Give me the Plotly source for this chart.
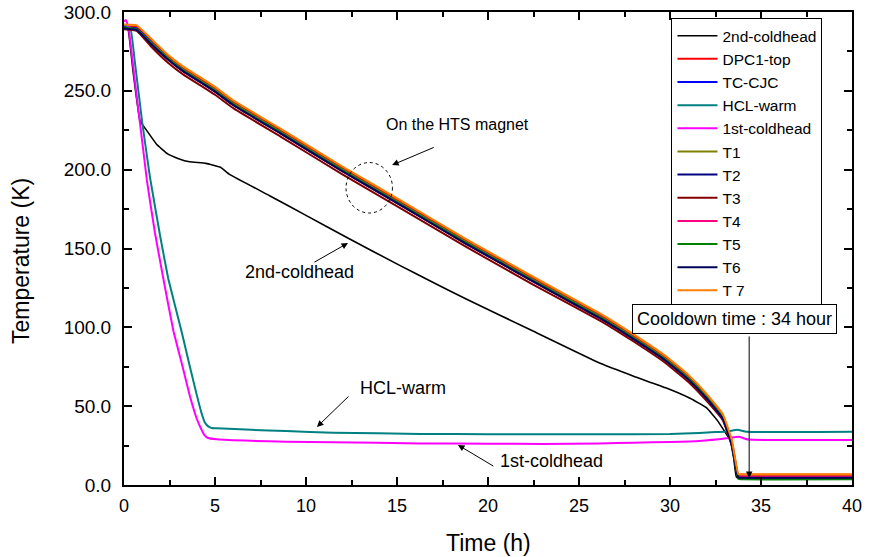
import plotly.graph_objects as go

# ---------------- data ----------------
t_2nd = [0, 0.2, 0.5, 0.88, 1.3, 1.8, 2.4, 3.0, 3.6, 4.5, 5.3, 5.8, 8, 10, 12.4, 15.2, 16.8, 18.8,
         22.5, 26.2, 28, 29.8, 31.1, 32, 32.6, 33.0, 33.3, 33.5, 33.65, 34, 40]
v_2nd = [290, 290, 262, 231, 224, 216, 210, 207, 205, 204, 201.5, 197, 183.5, 171, 156, 139, 129.5, 118,
         97.5, 77, 69, 61.5, 55, 49, 41, 34, 28.5, 17, 5, 4.2, 4.2]

t_mag = [0, 0.7, 1.5, 2.4, 3.3, 4.2, 5, 6, 8.6, 12, 15.2, 18.8, 22.5, 26.2, 28, 29.8, 31, 32,
         32.9, 33.4, 33.75, 34, 40]
v_dpc1 = [291, 290.5, 282, 272, 264, 257.5, 251.5, 243, 225, 201, 179.5, 155, 131, 107.5, 94.5, 80.5,
          69, 57, 44, 27.5, 6.5, 6.5, 6.5]
v_tccjc = [290.5, 289.5, 281, 271, 263, 256.5, 250.5, 242, 224, 200, 178.5, 154, 130, 106.5, 93.5, 79.5,
           68, 56, 43, 26.5, 5, 4.8, 4.8]
v_t1 = [290, 289, 280.5, 271, 263, 256.5, 250.5, 242, 224, 200, 178.5, 154, 130, 106.5, 93.5, 79.5,
        68, 56, 43, 26.5, 5, 4.5, 4.5]
v_t2 = [289.5, 288.5, 279.5, 270, 262, 255.5, 249.5, 241, 223, 199, 177.5, 153, 129, 105.5, 92.5, 78.5,
        67, 55, 42, 25.5, 4.8, 4.6, 4.6]
v_t3 = [289, 288, 278, 268, 260, 253.5, 247.5, 239, 221, 197, 175.5, 151, 127, 104, 91, 77,
        65.5, 53.5, 41, 25, 5.5, 5.3, 5.3]
v_t4 = [289.5, 288.5, 279.5, 270, 262, 255.5, 249.5, 241, 223, 199, 177.5, 153, 129, 105.5, 92.5, 78.5,
        67, 55, 42, 25.5, 5, 5, 5]
v_t5 = [290, 289, 280, 270.5, 262.5, 256, 250, 241.5, 223.5, 199.5, 178, 153.5, 129.5, 106, 93, 79,
        67.5, 55.5, 42.5, 26, 4, 3.6, 3.6]
v_t6 = [289.5, 288.5, 279.5, 270, 262, 255.5, 249.5, 241, 223, 199, 177.5, 153, 129, 105.5, 92.5, 78.5,
        67, 55, 42, 25.5, 4.8, 4.6, 4.6]
v_t7 = [292, 291.5, 283, 273, 265, 258.5, 252.5, 244, 226, 202, 180.5, 156, 132, 108.5, 95.5, 81.5,
        70, 58, 45, 28.5, 7, 6.8, 6.8]

t_hcl = [0, 0.35, 0.6, 1.0, 1.43, 2.0, 2.43, 3.17, 3.6, 4.0, 4.25, 4.45, 4.65, 4.82, 5.1, 7, 8.9,
         11.5, 16.3, 20, 26, 30, 31.6, 32.5, 33.2, 33.7, 34.2, 40]
v_hcl = [292, 290, 268, 230, 195, 157, 131, 97, 76, 57, 46, 39.5, 37, 36.2, 36, 35, 34.2,
         33.2, 32.4, 32.2, 32.2, 32.3, 33, 33.6, 34, 35, 33.8, 33.8]

t_1st = [0, 0.1, 0.25, 0.6, 1.0, 1.26, 1.7, 2.16, 2.71, 3.2, 3.63, 4.0, 4.18, 4.4, 4.62, 5.1, 7,
         8.9, 11.5, 16.3, 20, 23, 26.15, 28, 30, 31.6, 33.1, 33.5, 33.8, 34.3, 37, 40]
v_1st = [294, 295, 290, 256, 218, 193, 160, 131, 98, 76, 56, 42, 37, 32, 29.8, 29, 28,
         27.5, 27.1, 26.4, 26.2, 26, 26.4, 26.8, 27.3, 27.9, 29.6, 30.3, 30.6, 28.8, 28.5, 28.5]

x_ticks = [0, 5, 10, 15, 20, 25, 30, 35, 40]
y_ticks = [0, 50, 100, 150, 200, 250, 300]

# ---------------- figure ----------------
FONT = "Arial, Liberation Sans, sans-serif"
fig = go.Figure()

series = [
    ("2nd-coldhead", t_2nd, v_2nd, "#000000", 1.6),
    ("DPC1-top", t_mag, v_dpc1, "#FF0000", 2),
    ("TC-CJC", t_mag, v_tccjc, "#0000FF", 2),
    ("HCL-warm", t_hcl, v_hcl, "#008080", 2),
    ("1st-coldhead", t_1st, v_1st, "#FF00FF", 2),
    ("T1", t_mag, v_t1, "#808000", 2),
    ("T2", t_mag, v_t2, "#000080", 2),
    ("T3", t_mag, v_t3, "#800000", 2),
    ("T4", t_mag, v_t4, "#FF0080", 2),
    ("T5", t_mag, v_t5, "#008000", 2),
    ("T6", t_mag, v_t6, "#00005A", 2),
    ("T 7", t_mag, v_t7, "#FF8000", 2),
]
for name, xs, ys, col, w in series:
    fig.add_trace(go.Scatter(x=xs, y=ys, mode="lines", name=name,
                             line=dict(color=col, width=w, shape="spline", smoothing=0.3)))

# dashed ellipse
fig.add_shape(type="circle", xref="x", yref="y", x0=12.2, x1=14.75, y0=172.5, y1=204.5,
              line=dict(color="black", width=1, dash="dot"))

arrows = [
    (14.73, 202.9, 17.1, 214.5),
    (12.31, 153.5, 10.38, 140.8),
    (10.6, 36.8, 12.42, 57.1),
    (18.35, 25.4, 20.38, 11.4),
    (34.35, 4.4, 34.35, 95.2),
]
for x, y, ax, ay in arrows:
    fig.add_annotation(x=x, y=y, ax=ax, ay=ay, xref="x", yref="y", axref="x", ayref="y",
                       text="", showarrow=True, arrowhead=2, arrowsize=1.3, arrowwidth=1,
                       arrowcolor="black")

texts = [
    (18.35, 228.9, "On the HTS magnet", 16),
    (9.67, 135.1, "2nd-coldhead", 18),
    (15.33, 61.5, "HCL-warm", 18),
    (23.5, 15.2, "1st-coldhead", 18),
]
for x, y, s, fs in texts:
    fig.add_annotation(x=x, y=y, xref="x", yref="y", text=s, showarrow=False,
                       font=dict(family=FONT, size=fs, color="black"))

fig.add_annotation(x=33.57, y=105.3, xref="x", yref="y", text="Cooldown time : 34 hour",
                   showarrow=False, font=dict(family=FONT, size=18, color="black"),
                   bordercolor="black", borderwidth=1, borderpad=4, bgcolor="white")

# axis titles
fig.add_annotation(x=0.5, y=-0.1226, xref="paper", yref="paper", text="Time (h)",
                   showarrow=False, font=dict(family=FONT, size=23, color="black"),
                   xanchor="center", yanchor="middle")
fig.add_annotation(x=-0.1415, y=0.4736, xref="paper", yref="paper", text="Temperature (K)",
                   textangle=-90, showarrow=False, font=dict(family=FONT, size=23, color="black"),
                   xanchor="center", yanchor="middle")

axis_common = dict(showline=True, linecolor="black", linewidth=2, mirror="ticks",
                   ticks="inside", ticklen=8, tickwidth=1.5, tickcolor="black",
                   showgrid=False, zeroline=False, automargin=False,
                   ticklabeloverflow="allow")

fig.update_xaxes(range=[0, 40], tickvals=x_ticks, ticktext=[str(v) for v in x_ticks],
                 tickfont=dict(family=FONT, size=18, color="black"), ticklabelstandoff=3,
                 minor=dict(dtick=2.5, ticks="inside", ticklen=5, tickcolor="black", tickwidth=1.5),
                 **axis_common)
fig.update_yaxes(range=[0, 300], tickvals=y_ticks, ticktext=[f"{v:.1f}" for v in y_ticks],
                 tickfont=dict(family=FONT, size=19, color="black"), ticklabelstandoff=7,
                 minor=dict(dtick=25, ticks="inside", ticklen=5, tickcolor="black", tickwidth=1.5),
                 **axis_common)

fig.update_layout(
    width=869, height=557,
    margin=dict(l=124, r=17, t=12, b=72),
    paper_bgcolor="white", plot_bgcolor="white",
    font=dict(family=FONT, color="black"),
    legend=dict(x=0.752, y=0.987, xanchor="left", yanchor="top",
                bordercolor="black", borderwidth=1, bgcolor="white",
                font=dict(family=FONT, size=15.5, color="black"),
                itemwidth=40, tracegroupgap=0),
)

# remove the default 8 px page margin so the figure sits at the window's top-left corner
fig.write_html("out.html", config={"displayModeBar": False},
               post_script="document.body.style.margin='0';document.body.style.overflow='hidden';")
